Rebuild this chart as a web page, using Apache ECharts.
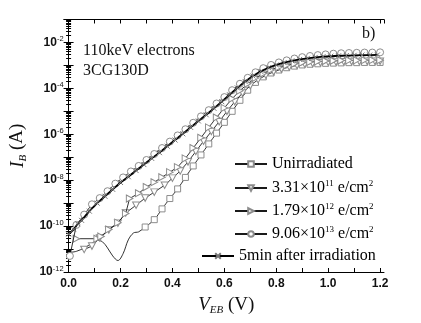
<!DOCTYPE html>
<html><head><meta charset="utf-8">
<script src="https://cdn.jsdelivr.net/npm/echarts@6/dist/echarts.min.js"></script>
<style>html,body{margin:0;padding:0;background:#fff}#c{width:421px;height:323px}</style>
</head><body><div id="c"></div>
<script>
// Data: V_EB (V) and log10(I_B / A)
const xTicks = [0.0, 0.2, 0.4, 0.6, 0.8, 1.0, 1.2];
const yTickExponents = [-12, -10, -8, -6, -4, -2];

const unirrV = [0.0, 0.03, 0.06, 0.09, 0.11, 0.13, 0.15, 0.17, 0.19, 0.21, 0.23, 0.25, 0.27, 0.295, 0.33, 0.36, 0.39, 0.42, 0.45, 0.48, 0.51, 0.54, 0.57, 0.60, 0.63, 0.66, 0.69, 0.72, 0.75, 0.78, 0.81, 0.84, 0.87, 0.90, 0.93, 0.96, 0.99, 1.02, 1.05, 1.08, 1.11, 1.14, 1.17, 1.20];
const unirrLogI = [-11.15, -11.1, -10.95, -10.75, -10.62, -10.68, -10.95, -11.3, -11.5, -11.2, -10.6, -10.3, -10.25, -10.04, -9.72, -9.25, -8.8, -8.38, -7.88, -7.38, -6.9, -6.42, -5.95, -5.48, -5.0, -4.52, -4.08, -3.74, -3.5, -3.33, -3.2, -3.1, -3.03, -2.98, -2.95, -2.93, -2.91, -2.9, -2.89, -2.88, -2.88, -2.87, -2.87, -2.87];
const unirrFirstMarker = 0.295;

const d331V = [0.06, 0.09, 0.12, 0.155, 0.19, 0.22, 0.26, 0.295, 0.33, 0.37, 0.40, 0.43, 0.46, 0.49, 0.52, 0.55, 0.58, 0.61, 0.64, 0.67, 0.70, 0.73, 0.76, 0.79, 0.82, 0.85, 0.88, 0.91, 0.94, 0.97, 1.00, 1.03, 1.06, 1.09, 1.12, 1.15, 1.18, 1.20];
const d331LogI = [-11.02, -10.87, -10.52, -10.17, -9.87, -9.43, -9.09, -8.78, -8.52, -8.22, -7.91, -7.6, -7.2, -6.75, -6.3, -5.88, -5.45, -5.0, -4.58, -4.2, -3.88, -3.62, -3.43, -3.28, -3.16, -3.07, -3.0, -2.95, -2.91, -2.88, -2.86, -2.85, -2.84, -2.83, -2.83, -2.82, -2.82, -2.82];

const d179V = [0.03, 0.11, 0.125, 0.155, 0.19, 0.22, 0.235, 0.27, 0.30, 0.33, 0.36, 0.39, 0.42, 0.45, 0.48, 0.51, 0.54, 0.57, 0.60, 0.63, 0.66, 0.69, 0.72, 0.75, 0.78, 0.81, 0.84, 0.87, 0.90, 0.93, 0.96, 0.99, 1.02, 1.05, 1.08, 1.11, 1.14, 1.17, 1.20];
const d179LogI = [-10.55, -10.55, -10.45, -10.15, -9.85, -9.45, -8.8, -8.57, -8.3, -8.09, -7.87, -7.65, -7.43, -7.05, -6.6, -6.15, -5.7, -5.27, -4.85, -4.45, -4.1, -3.8, -3.55, -3.35, -3.2, -3.08, -2.99, -2.93, -2.88, -2.85, -2.83, -2.81, -2.8, -2.79, -2.78, -2.78, -2.77, -2.77, -2.77];

const d906V = [0.005, 0.03, 0.06, 0.09, 0.12, 0.15, 0.18, 0.21, 0.24, 0.27, 0.30, 0.33, 0.36, 0.39, 0.42, 0.45, 0.48, 0.51, 0.54, 0.57, 0.60, 0.63, 0.66, 0.69, 0.72, 0.75, 0.78, 0.81, 0.84, 0.87, 0.90, 0.93, 0.96, 0.99, 1.02, 1.05, 1.08, 1.11, 1.14, 1.17, 1.20];
const d906LogI = [-11.3, -9.95, -9.5, -9.05, -8.78, -8.48, -8.15, -7.88, -7.62, -7.38, -7.12, -6.86, -6.6, -6.32, -6.05, -5.78, -5.5, -5.22, -4.95, -4.66, -4.38, -4.08, -3.8, -3.54, -3.3, -3.12, -2.98, -2.87, -2.78, -2.7, -2.64, -2.59, -2.55, -2.52, -2.49, -2.47, -2.46, -2.45, -2.44, -2.44, -2.43];

const afterV = [0.0, 0.02, 0.035, 0.05, 0.08, 0.11, 0.14, 0.17, 0.20, 0.23, 0.26, 0.29, 0.32, 0.35, 0.38, 0.41, 0.44, 0.47, 0.50, 0.53, 0.56, 0.59, 0.62, 0.65, 0.68, 0.71, 0.74, 0.77, 0.80, 0.83, 0.86, 0.89, 0.92, 0.95, 0.98, 1.01, 1.04, 1.07, 1.10, 1.13, 1.16, 1.19];
const afterLogI = [-10.35, -10.15, -9.9, -9.75, -9.35, -9.0, -8.7, -8.4, -8.1, -7.85, -7.58, -7.32, -7.05, -6.8, -6.52, -6.25, -5.98, -5.7, -5.42, -5.15, -4.87, -4.58, -4.28, -3.98, -3.7, -3.46, -3.26, -3.1, -2.98, -2.88, -2.8, -2.74, -2.69, -2.65, -2.62, -2.6, -2.58, -2.57, -2.56, -2.55, -2.55, -2.54];

const seriesNames = ['Unirradiated', '3.31e11', '1.79e12', '9.06e13', '5min'];
const legendLabels = {
  'Unirradiated': '{t|Unirradiated}',
  '3.31e11': '{t|3.31×10}{s|11}{t| e/cm}{s|2}',
  '1.79e12': '{t|1.79×10}{s|12}{t| e/cm}{s|2}',
  '9.06e13': '{t|9.06×10}{s|13}{t| e/cm}{s|2}',
  '5min': '{t|5min after irradiation}'
};
const legendRowTops = [156, 179, 202, 225, 248];
const legendRowLefts = [234, 234, 234, 234, 201];

function pts(V, L, hideBefore) {
  return V.map((v, i) => {
    const item = { value: [v, Math.pow(10, L[i])] };
    if (hideBefore !== undefined && v < hideBefore) item.symbol = 'none';
    return item;
  });
}

const serif = 'Liberation Serif, Times New Roman, serif';
const sans = 'Liberation Sans, Arial, sans-serif';
const markStyle = { color: '#fff', borderColor: '#8c8c8c', borderWidth: 1 };
const line1 = { color: '#1a1a1a', width: 0.9 };

const chart = echarts.init(document.getElementById('c'), null, { renderer: 'canvas' });
const gridL = 46, gridR = 37, gridT = 19.5, gridB = 51;

const baseX = {
  type: 'value', min: 0, max: 1.215, interval: 0.1,
  axisLine: { show: true, lineStyle: { color: '#000', width: 1 } },
  axisTick: { show: true, inside: true, length: 4, lineStyle: { color: '#000' } },
  splitLine: { show: false }
};
const baseY = {
  type: 'log', logBase: 10, min: 1e-12, max: 1e-1, interval: 1,
  axisLine: { show: true, lineStyle: { color: '#000', width: 1 } },
  axisTick: { show: true, inside: true, length: 5, lineStyle: { color: '#000' } },
  minorTick: { show: true, splitNumber: 9, length: 2.5, lineStyle: { color: '#000' } },
  splitLine: { show: false }
};

const legends = seriesNames.map((n, i) => ({
  data: [n], orient: 'vertical', left: legendRowLefts[i], top: legendRowTops[i], padding: 0,
  itemWidth: 32, itemHeight: 7, itemGap: 2, selectedMode: false,
  formatter: nm => legendLabels[nm],
  textStyle: {
    color: '#000',
    rich: {
      t: { fontFamily: serif, fontSize: 16, lineHeight: 18, color: '#000' },
      s: { fontFamily: serif, fontSize: 9, lineHeight: 9, verticalAlign: 'top', color: '#000' }
    }
  }
}));

chart.setOption({
  animation: false,
  backgroundColor: '#fff',
  grid: { left: gridL, right: gridR, top: gridT, bottom: gridB },
  legend: legends,
  xAxis: [
    Object.assign({}, baseX, {
      position: 'bottom',
      name: '{i|V}{sub|EB}{n| (V)}', nameLocation: 'middle', nameGap: 22,
      nameTextStyle: { rich: {
        i: { fontFamily: serif, fontStyle: 'italic', fontSize: 19, lineHeight: 22, color: '#111' },
        sub: { fontFamily: serif, fontStyle: 'italic', fontSize: 11, lineHeight: 10, verticalAlign: 'bottom', color: '#111' },
        n: { fontFamily: serif, fontSize: 19, lineHeight: 22, color: '#111' }
      } },
      axisLabel: {
        show: true, margin: 6, color: '#111', fontFamily: sans, fontWeight: 'bold', fontSize: 12,
        showMaxLabel: false,
        formatter: v => (xTicks.some(t => Math.abs(t - v) < 1e-6) ? v.toFixed(1) : '')
      }
    }),
    Object.assign({}, baseX, { position: 'top', axisLabel: { show: false } })
  ],
  yAxis: [
    Object.assign({}, baseY, {
      position: 'left',
      name: '{i|I}{sub|B}{n| (A)}', nameLocation: 'middle', nameGap: 28, nameRotate: 90,
      nameTextStyle: { rich: {
        i: { fontFamily: serif, fontStyle: 'italic', fontSize: 19, lineHeight: 22, color: '#111' },
        sub: { fontFamily: serif, fontStyle: 'italic', fontSize: 11, lineHeight: 10, verticalAlign: 'bottom', color: '#111' },
        n: { fontFamily: serif, fontSize: 19, lineHeight: 22, color: '#111' }
      } },
      axisLabel: {
        show: true, margin: 5, color: '#111',
        formatter: v => {
          const e = Math.round(Math.log10(v));
          return yTickExponents.indexOf(e) >= 0 ? '{b|10}{s|' + e + '}' : '';
        },
        rich: {
          b: { fontFamily: sans, fontWeight: 'bold', fontSize: 12, lineHeight: 15, color: '#111' },
          s: { fontFamily: sans, fontSize: 7.5, lineHeight: 7, verticalAlign: 'top', color: '#111' }
        }
      }
    }),
    Object.assign({}, baseY, { position: 'right', axisLabel: { show: false } })
  ],
  graphic: [
    { type: 'text', left: 83, top: 43, style: { text: '110keV electrons', font: '16px ' + serif, fill: '#111' } },
    { type: 'text', left: 83, top: 63, style: { text: '3CG130D', font: '16px ' + serif, fill: '#111' } },
    { type: 'text', left: 362, top: 26, style: { text: 'b)', font: '16px ' + serif, fill: '#111' } }
  ],
  series: [
    { name: seriesNames[0], type: 'line', data: pts(unirrV, unirrLogI, unirrFirstMarker), smooth: 0.35,
      symbol: 'rect', symbolSize: 6, itemStyle: markStyle, lineStyle: line1, z: 2 },
    { name: seriesNames[1], type: 'line', data: pts(d331V, d331LogI),
      symbol: 'path://M0,0L10,0L5,9Z', symbolSize: [7, 6.5], itemStyle: markStyle, lineStyle: line1, z: 3 },
    { name: seriesNames[2], type: 'line', data: pts(d179V, d179LogI),
      symbol: 'path://M0,0L9,5L0,10Z', symbolSize: [6.5, 7], itemStyle: markStyle, lineStyle: line1, z: 4 },
    { name: seriesNames[3], type: 'line', data: pts(d906V, d906LogI),
      symbol: 'circle', symbolSize: 7, itemStyle: markStyle, lineStyle: line1, z: 5 },
    { name: seriesNames[4], type: 'line', data: pts(afterV, afterLogI),
      symbol: 'path://M0,0L10,10M10,0L0,10', symbolSize: 5,
      itemStyle: { color: 'none', borderColor: '#777', borderWidth: 1 },
      lineStyle: { color: '#000', width: 1.8 }, z: 6 }
  ]
});
</script></body></html>
